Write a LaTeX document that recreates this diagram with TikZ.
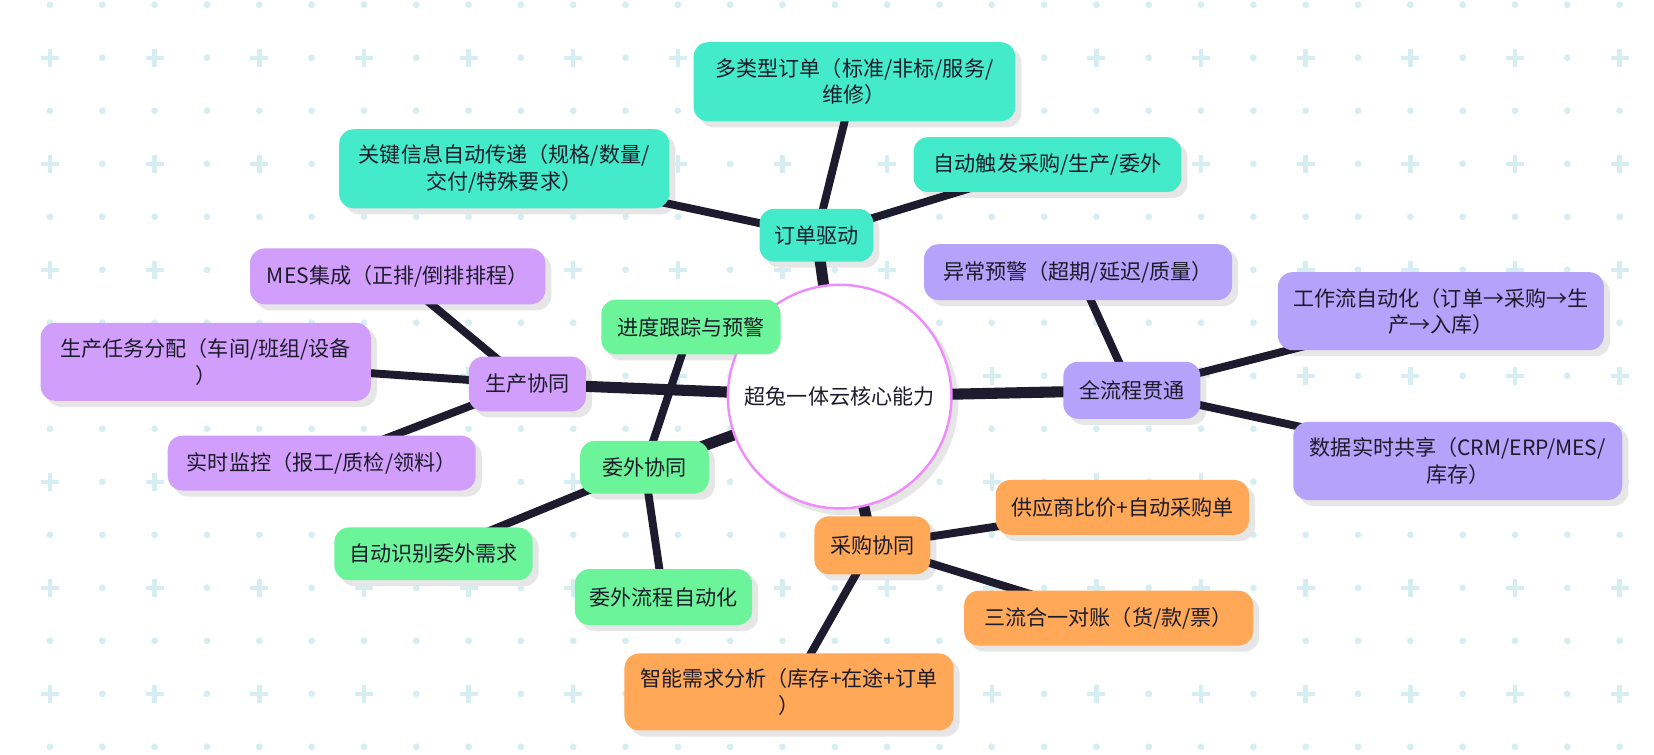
\documentclass[tikz,border=0pt]{standalone}
\usepackage{fontspec}
\setmainfont{Noto Sans CJK SC}
\usetikzlibrary{calc}
\definecolor{tealc}{HTML}{43EBCB}
\definecolor{lavc}{HTML}{B4A2FB}
\definecolor{lpurc}{HTML}{D29EFC}
\definecolor{orgc}{HTML}{FFA857}
\definecolor{grnc}{HTML}{6CF49A}
\definecolor{edgec}{HTML}{1E1B2E}
\definecolor{gridc}{HTML}{D6EEF2}
\definecolor{shadc}{HTML}{E6E6E6}
\definecolor{pinkc}{HTML}{EE8CFB}
\definecolor{txtc}{HTML}{1C1B2A}
\pgfdeclarelayer{gridl}
\pgfdeclarelayer{shadl}
\pgfdeclarelayer{edgel}
\pgfsetlayers{gridl,shadl,edgel,main}
\begin{document}
\begin{tikzpicture}[x=1pt,y=-1pt,
  box/.style={rounded corners=14pt, inner xsep=8pt, inner ysep=3pt, align=center,
    text=txtc, font=\fontsize{20pt}{25pt}\selectfont},
  one/.style={box, minimum height=52pt},
  two/.style={box, minimum height=74pt},
  mainedge/.style={draw=edgec, line width=10.5pt},
  subedge/.style={draw=edgec, line width=7.5pt}]
\useasboundingbox (0,0) rectangle (1568,714.8);
\begin{pgfonlayer}{gridl}
\fill[white] (0,0) rectangle (1568,714.8);
\foreach \k in {0,...,14}{
 \foreach \i in {0,...,32}{
  \pgfmathsetmacro\gx{47.4+49.6*\i}
  \pgfmathsetmacro\gy{4.5+50.25*\k}
  \ifodd\k\relax
    \ifodd\i\relax
      \fill[gridc] (\gx,\gy) circle (3.2pt);
    \else
      \draw[gridc,line width=4.2pt] (\gx-8.5,\gy) -- (\gx+8.5,\gy) (\gx,\gy-8.5) -- (\gx,\gy+8.5);
    \fi
  \else
    \fill[gridc] (\gx,\gy) circle (3.2pt);
  \fi
 }}
\end{pgfonlayer}

% root
\node[circle, draw=pinkc, line width=2.3pt, fill=white, minimum size=212pt, inner sep=0pt,
  text=txtc, font=\fontsize{20pt}{25pt}\selectfont] (c) at (796,376) {超兔一体云核心能力};

% order branch
\node[one, fill=tealc, minimum width=108pt, minimum height=50pt] (od) at (774,223) {订单驱动};
\node[two, fill=tealc, minimum width=305pt, minimum height=75pt] (od1) at (810,77.5) {多类型订单（标准/非标/服务/\\维修）};
\node[two, fill=tealc, minimum width=313pt, minimum height=75pt] (od2) at (478,160) {关键信息自动传递（规格/数量/\\交付/特殊要求）};
\node[one, fill=tealc, minimum width=254pt] (od3) at (993,156) {自动触发采购/生产/委外};

% flow branch
\node[one, fill=lavc, minimum width=130pt, minimum height=54pt] (fl) at (1073,370) {全流程贯通};
\node[one, fill=lavc, minimum width=292pt, minimum height=53pt] (fl1) at (1022,258) {异常预警（超期/延迟/质量）};
\node[two, fill=lavc, minimum width=309pt] (fl2) at (1366,295) {工作流自动化（订单→采购→生\\产→入库）};
\node[two, fill=lavc, minimum width=312pt] (fl3) at (1382,437) {数据实时共享（CRM/ERP/MES/\\库存）};

% purchase branch
\node[one, fill=orgc, minimum width=110pt, minimum height=55pt] (cg) at (827,517) {采购协同};
\node[one, fill=orgc, minimum width=240pt] (cg1) at (1064,481) {供应商比价+自动采购单};
\node[one, fill=orgc, minimum width=274pt] (cg2) at (1051,586) {三流合一对账（货/款/票）};
\node[two, fill=orgc, minimum width=312pt, minimum height=73pt] (cg3) at (748,656) {智能需求分析（库存+在途+订单\\）};

% outsourcing branch
\node[one, fill=grnc, minimum width=122pt, minimum height=50pt] (ww) at (611,443) {委外协同};
\node[one, fill=grnc, minimum width=170pt] (ww1) at (655,310) {进度跟踪与预警};
\node[one, fill=grnc, minimum width=188pt, minimum height=50pt] (ww2) at (411,525) {自动识别委外需求};
\node[one, fill=grnc, minimum width=168pt, minimum height=53pt] (ww3) at (629,566) {委外流程自动化};

% production branch
\node[one, fill=lpurc, minimum width=111pt] (sc) at (500,364) {生产协同};
\node[one, fill=lpurc, minimum width=280pt, minimum height=53pt] (sc1) at (377,262) {MES集成（正排/倒排排程）};
\node[two, fill=lpurc, minimum width=313pt] (sc2) at (195,343) {生产任务分配（车间/班组/设备\\）};
\node[one, fill=lpurc, minimum width=292pt] (sc3) at (305,439) {实时监控（报工/质检/领料）};

% shadows
\begin{pgfonlayer}{shadl}
\foreach \n in {od,od1,od2,od3,fl,fl1,fl2,fl3,cg,cg1,cg2,cg3,ww,ww1,ww2,ww3,sc,sc1,sc2,sc3}
  \fill[shadc, rounded corners=14pt] ($(\n.south west)+(5.5,5.5)$) rectangle ($(\n.north east)+(5.5,5.5)$);
\fill[shadc] ($(c.center)+(5.5,5.5)$) circle (107pt);
\end{pgfonlayer}

% connectors
\begin{pgfonlayer}{edgel}
\foreach \b in {od,fl,cg,ww,sc}
  \draw[mainedge] (c.center) -- (\b.center);
\foreach \p/\q in {od/od1,od/od2,od/od3,fl/fl1,fl/fl2,fl/fl3,cg/cg1,cg/cg2,cg/cg3,ww/ww1,ww/ww2,ww/ww3,sc/sc1,sc/sc2,sc/sc3}
  \draw[subedge] (\p.center) -- (\q.center);
\end{pgfonlayer}
\end{tikzpicture}
\end{document}
